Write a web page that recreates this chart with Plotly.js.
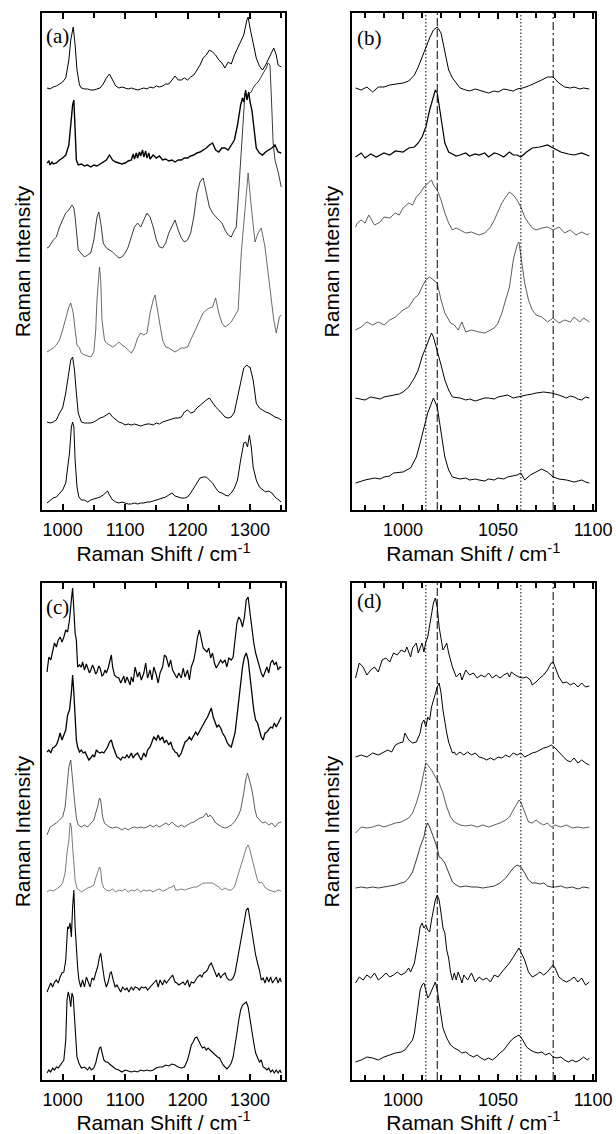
<!DOCTYPE html>
<html><head><meta charset="utf-8">
<script src="https://cdn.plot.ly/plotly-3.0.1.min.js"></script>
<style>html,body{margin:0;padding:0;background:#fff;}#chart{width:616px;height:1134px;}</style>
</head><body><div id="chart"></div>
<script>
// ---------- DATA (Raman shift in cm-1, stacked intensity in arbitrary units) ----------
const specA1 = [[975,422],[980,421],[985,423],[990,424],[995,426],[1000,428],[1005,432],[1010,450],[1013,470],[1017,483],[1020,465],[1023,440],[1027,425],[1030,422],[1035,421],[1040,421],[1045,420],[1050,420],[1055,421],[1060,422],[1065,426],[1070,432],[1075,436],[1080,430],[1085,424],[1090,422],[1095,423],[1100,422],[1105,421],[1110,422],[1115,421],[1120,420],[1125,421],[1130,422],[1135,421],[1140,423],[1145,422],[1150,424],[1155,423],[1160,424],[1165,426],[1170,426],[1175,430],[1180,434],[1185,430],[1190,430],[1195,432],[1200,430],[1205,433],[1210,435],[1215,440],[1220,445],[1225,452],[1230,455],[1235,460],[1240,458],[1245,455],[1250,450],[1255,447],[1260,442],[1265,448],[1270,446],[1275,455],[1280,462],[1285,468],[1290,475],[1295,490],[1297,493],[1300,482],[1305,465],[1310,452],[1315,444],[1320,440],[1325,445],[1330,452],[1335,458],[1338,462],[1342,455],[1345,445],[1350,443]];
const specA2 = [[975,347],[978,349],[980,345],[983,348],[985,346],[990,347],[995,350],[1000,352],[1005,355],[1010,365],[1013,385],[1016,405],[1018,410],[1020,370],[1022,350],[1025,345],[1030,346],[1035,344],[1040,345],[1045,343],[1050,345],[1055,344],[1060,346],[1065,348],[1070,350],[1075,355],[1080,350],[1085,348],[1090,347],[1095,346],[1100,347],[1105,349],[1110,350],[1113,356],[1115,351],[1118,357],[1120,352],[1123,358],[1125,354],[1128,360],[1130,353],[1133,359],[1135,352],[1138,357],[1140,351],[1145,355],[1150,352],[1155,354],[1160,350],[1165,351],[1170,349],[1175,350],[1180,348],[1185,350],[1190,350],[1195,352],[1200,352],[1205,354],[1210,355],[1215,357],[1220,358],[1225,360],[1230,362],[1235,365],[1240,367],[1245,360],[1250,358],[1255,362],[1260,362],[1265,360],[1270,365],[1275,370],[1280,385],[1285,405],[1288,412],[1290,408],[1293,420],[1295,410],[1298,418],[1300,408],[1303,400],[1306,385],[1310,362],[1315,357],[1320,355],[1325,358],[1330,360],[1335,362],[1340,365],[1345,358],[1350,357]];
const specA3 = [[975,262],[978,263],[981,266],[985,270],[990,273],[995,283],[1000,290],[1005,297],[1010,300],[1015,305],[1018,302],[1020,293],[1025,260],[1030,257],[1035,253],[1040,255],[1045,257],[1050,270],[1055,293],[1058,298],[1062,283],[1065,267],[1070,262],[1075,260],[1080,258],[1085,255],[1090,252],[1095,253],[1100,257],[1105,263],[1110,273],[1115,283],[1120,287],[1125,283],[1130,290],[1135,297],[1140,293],[1145,283],[1150,270],[1155,263],[1160,262],[1165,267],[1170,277],[1175,283],[1180,290],[1185,280],[1190,272],[1195,268],[1200,270],[1205,277],[1210,293],[1215,317],[1220,328],[1225,332],[1230,317],[1235,303],[1240,297],[1245,293],[1250,290],[1255,287],[1260,280],[1265,275],[1270,273],[1275,280],[1278,283],[1282,320],[1286,357],[1290,405],[1292,417],[1296,415],[1302,418],[1305,422],[1308,425],[1313,428],[1318,433],[1322,438],[1326,442],[1329,447],[1332,445],[1335,400],[1337,367],[1340,350],[1345,338],[1350,323]];
const specA4 = [[975,158],[980,160],[985,162],[990,165],[995,170],[1000,180],[1005,193],[1010,203],[1013,207],[1017,197],[1020,180],[1023,165],[1027,162],[1030,157],[1035,155],[1040,154],[1045,153],[1050,158],[1053,180],[1055,210],[1057,230],[1059,243],[1061,230],[1063,190],[1067,170],[1070,167],[1075,165],[1080,163],[1085,165],[1090,168],[1095,165],[1100,163],[1105,160],[1110,157],[1115,162],[1120,172],[1125,177],[1130,175],[1135,177],[1140,197],[1145,210],[1148,215],[1150,207],[1152,200],[1155,187],[1160,170],[1165,163],[1170,162],[1175,160],[1180,158],[1185,160],[1190,162],[1195,162],[1200,163],[1205,170],[1210,177],[1215,183],[1220,190],[1225,197],[1230,200],[1235,202],[1240,203],[1245,212],[1250,197],[1255,187],[1260,183],[1265,185],[1270,188],[1275,193],[1281,200],[1286,257],[1292,303],[1297,337],[1302,303],[1308,268],[1313,277],[1318,282],[1324,263],[1332,223],[1338,190],[1342,177],[1347,193],[1350,195]];
const specA5 = [[975,88],[980,87],[985,88],[990,90],[995,97],[1000,102],[1005,117],[1010,137],[1013,150],[1016,153],[1019,140],[1022,117],[1025,97],[1030,88],[1035,87],[1040,87],[1045,87],[1050,88],[1055,90],[1060,92],[1065,93],[1070,95],[1075,97],[1080,93],[1085,90],[1090,88],[1095,87],[1100,85],[1105,86],[1110,85],[1115,86],[1120,85],[1125,84],[1130,85],[1135,86],[1140,86],[1145,85],[1150,87],[1155,86],[1160,88],[1165,89],[1170,90],[1175,91],[1180,92],[1185,92],[1190,93],[1195,98],[1200,100],[1205,97],[1210,98],[1215,102],[1220,105],[1225,108],[1230,110],[1235,112],[1240,107],[1245,103],[1250,100],[1255,97],[1260,93],[1265,92],[1270,93],[1275,98],[1280,113],[1285,130],[1290,142],[1295,145],[1298,143],[1300,143],[1305,130],[1310,107],[1315,102],[1320,100],[1325,98],[1330,97],[1335,95],[1340,93],[1345,92],[1350,90]];
const specA6 = [[975,7],[980,10],[985,12],[990,13],[995,17],[1000,20],[1005,27],[1008,40],[1011,57],[1014,83],[1016,88],[1018,83],[1020,50],[1023,23],[1026,13],[1030,10],[1035,10],[1040,8],[1045,10],[1050,11],[1055,12],[1060,13],[1065,15],[1070,18],[1072,19],[1075,15],[1080,10],[1085,8],[1090,7],[1095,8],[1100,7],[1105,6],[1110,6],[1115,7],[1120,6],[1125,7],[1130,7],[1135,8],[1140,8],[1145,9],[1150,10],[1155,11],[1160,12],[1165,13],[1170,15],[1175,17],[1180,14],[1185,13],[1190,12],[1195,12],[1200,13],[1205,17],[1210,22],[1215,27],[1220,32],[1225,33],[1230,33],[1235,30],[1240,27],[1245,22],[1250,18],[1255,17],[1260,15],[1265,14],[1270,17],[1275,22],[1280,30],[1285,50],[1290,67],[1293,68],[1296,63],[1299,75],[1302,63],[1305,43],[1310,30],[1315,23],[1320,20],[1325,18],[1330,19],[1335,17],[1340,13],[1345,10],[1350,8]];

const specB1 = [[975,422],[978,420],[981,423],[984,418],[987,423],[990,423],[993,425],[996,426],[1000,427],[1003,429],[1006,435],[1008,443],[1010,453],[1012,463],[1014,472],[1016,480],[1018,483],[1020,477],[1022,460],[1024,440],[1026,432],[1028,427],[1030,422],[1033,420],[1035,419],[1038,421],[1040,420],[1043,418],[1045,417],[1048,419],[1050,418],[1053,421],[1055,420],[1058,419],[1060,421],[1063,422],[1066,424],[1070,427],[1073,430],[1076,433],[1079,433],[1082,427],[1085,423],[1088,422],[1090,423],[1093,421],[1095,422],[1098,421]];
const specB2 = [[975,353],[978,357],[980,352],[983,356],[986,353],[990,357],[993,355],[996,359],[1000,358],[1003,362],[1006,363],[1008,367],[1010,373],[1012,383],[1014,400],[1016,413],[1017,420],[1018,417],[1020,390],[1022,367],[1024,358],[1026,356],[1028,354],[1030,355],[1033,357],[1035,354],[1038,356],[1040,355],[1043,357],[1045,353],[1048,357],[1050,356],[1053,353],[1056,358],[1058,355],[1060,355],[1062,353],[1065,358],[1068,362],[1072,363],[1076,365],[1079,362],[1083,358],[1087,356],[1090,355],[1094,357],[1098,354]];
const specB3 = [[975,283],[976,287],[978,290],[980,287],[982,295],[984,289],[985,285],[988,288],[990,293],[993,292],[996,297],[998,295],[1000,302],[1003,307],[1005,305],[1007,313],[1009,317],[1011,323],[1013,327],[1015,330],[1016,325],[1018,320],[1020,310],[1022,297],[1024,287],[1026,280],[1028,282],[1030,280],[1033,277],[1036,278],[1040,275],[1043,277],[1046,283],[1048,290],[1050,298],[1052,307],[1054,313],[1056,318],[1058,315],[1060,310],[1062,303],[1064,293],[1066,287],[1068,282],[1070,280],[1073,282],[1076,283],[1079,280],[1082,283],[1085,277],[1088,280],[1091,275],[1094,278],[1097,275],[1098,277]];
const specB4 = [[975,180],[978,183],[981,188],[984,185],[987,188],[990,185],[993,190],[996,193],[1000,200],[1003,203],[1006,212],[1008,215],[1010,223],[1012,230],[1014,233],[1016,230],[1018,227],[1020,210],[1022,197],[1025,187],[1027,185],[1029,180],[1031,188],[1033,178],[1036,180],[1040,178],[1043,177],[1046,180],[1048,182],[1050,187],[1052,197],[1054,210],[1056,223],[1058,250],[1060,265],[1061,268],[1063,243],[1064,227],[1066,210],[1068,200],[1070,195],[1073,193],[1076,188],[1079,192],[1082,187],[1085,190],[1088,188],[1090,193],[1093,188],[1095,192],[1098,188]];
const specB5 = [[975,112],[978,111],[980,110],[983,113],[985,112],[988,111],[990,113],[993,114],[995,115],[998,116],[1000,118],[1003,123],[1006,132],[1008,140],[1010,153],[1012,163],[1014,172],[1015,177],[1016,173],[1018,160],[1020,145],[1022,130],[1024,120],[1026,113],[1030,112],[1033,110],[1035,111],[1038,109],[1040,110],[1043,112],[1045,112],[1048,111],[1050,113],[1053,114],[1055,115],[1058,112],[1060,113],[1063,114],[1065,115],[1068,116],[1070,117],[1074,118],[1078,117],[1082,115],[1086,112],[1088,114],[1090,113],[1092,111],[1094,110],[1096,113],[1098,112]];
const specB6 = [[975,27],[980,30],[985,32],[988,31],[990,33],[993,34],[995,37],[1000,38],[1004,42],[1007,53],[1009,67],[1011,83],[1013,97],[1015,107],[1016,112],[1018,103],[1020,77],[1022,53],[1024,40],[1026,33],[1030,31],[1033,32],[1035,30],[1038,31],[1040,30],[1043,29],[1045,31],[1048,30],[1050,32],[1053,31],[1055,33],[1058,34],[1060,35],[1062,37],[1064,30],[1067,35],[1070,38],[1073,41],[1076,38],[1079,33],[1082,31],[1086,30],[1090,28],[1094,30],[1096,28],[1098,27]];

const specC1 = [[975,408],[978,423],[981,420],[984,430],[987,437],[990,433],[993,440],[996,443],[999,438],[1002,443],[1005,450],[1008,448],[1011,460],[1014,480],[1016,492],[1018,470],[1020,447],[1022,440],[1024,413],[1027,415],[1030,413],[1032,418],[1035,410],[1038,416],[1040,413],[1043,407],[1045,410],[1048,415],[1050,412],[1053,406],[1055,408],[1058,414],[1060,412],[1063,404],[1065,405],[1068,410],[1070,407],[1073,412],[1076,420],[1078,425],[1080,413],[1083,405],[1086,403],[1090,402],[1093,397],[1095,400],[1098,404],[1100,397],[1103,403],[1105,400],[1108,395],[1110,403],[1113,398],[1116,413],[1120,403],[1123,408],[1126,400],[1130,407],[1133,417],[1136,402],[1140,410],[1143,400],[1146,413],[1150,405],[1153,397],[1156,407],[1160,413],[1163,425],[1166,423],[1170,413],[1173,420],[1176,410],[1180,405],[1183,402],[1186,407],[1190,402],[1193,412],[1196,403],[1200,410],[1203,400],[1206,413],[1208,417],[1210,420],[1213,430],[1216,443],[1219,450],[1222,440],[1225,432],[1228,430],[1231,428],[1234,432],[1237,422],[1240,427],[1243,417],[1246,412],[1250,417],[1253,420],[1256,417],[1260,420],[1263,413],[1266,422],[1270,420],[1273,423],[1276,440],[1279,457],[1282,463],[1285,460],[1288,453],[1291,463],[1294,480],[1297,483],[1300,467],[1303,450],[1306,437],[1309,427],[1312,420],[1315,413],[1318,407],[1321,403],[1324,408],[1327,413],[1330,407],[1333,417],[1336,420],[1339,415],[1342,418],[1345,410],[1348,413],[1350,412]];
const specC2 = [[975,328],[978,330],[981,327],[984,332],[987,333],[990,335],[993,340],[996,347],[999,340],[1002,345],[1005,350],[1008,365],[1011,370],[1014,387],[1016,405],[1018,387],[1020,360],[1022,340],[1024,333],[1027,328],[1030,330],[1033,327],[1036,328],[1039,323],[1042,320],[1045,322],[1048,325],[1051,323],[1054,330],[1057,328],[1060,327],[1063,328],[1066,327],[1069,330],[1072,333],[1075,338],[1078,340],[1081,333],[1084,327],[1087,323],[1090,322],[1093,320],[1096,323],[1100,322],[1103,325],[1106,322],[1110,327],[1113,322],[1116,325],[1120,327],[1123,323],[1126,320],[1130,327],[1133,323],[1136,330],[1140,333],[1143,338],[1146,343],[1150,340],[1153,345],[1156,340],[1160,343],[1163,337],[1166,340],[1170,335],[1173,338],[1176,332],[1180,328],[1183,327],[1186,323],[1190,327],[1193,333],[1196,338],[1200,340],[1203,343],[1206,340],[1210,345],[1213,348],[1216,345],[1220,350],[1223,353],[1226,357],[1229,360],[1232,363],[1235,368],[1238,372],[1241,363],[1244,358],[1247,353],[1250,355],[1253,352],[1256,347],[1260,343],[1263,338],[1266,335],[1270,333],[1273,340],[1276,347],[1279,363],[1282,380],[1285,397],[1288,413],[1291,423],[1294,427],[1297,420],[1300,403],[1303,383],[1306,370],[1309,360],[1312,357],[1315,350],[1318,343],[1321,340],[1324,347],[1327,348],[1330,350],[1333,353],[1336,352],[1339,357],[1342,353],[1345,357],[1348,360],[1350,363]];
const specC3 = [[975,245],[980,253],[985,255],[990,257],[995,260],[1000,263],[1004,273],[1007,293],[1010,313],[1013,320],[1016,303],[1019,280],[1022,262],[1025,255],[1030,253],[1035,255],[1040,253],[1045,257],[1050,260],[1053,267],[1056,273],[1059,282],[1061,280],[1064,263],[1067,257],[1070,255],[1075,253],[1080,252],[1085,253],[1090,252],[1095,250],[1100,252],[1105,250],[1110,252],[1115,253],[1120,252],[1125,253],[1130,252],[1135,253],[1140,255],[1145,253],[1150,255],[1155,253],[1160,255],[1165,257],[1170,255],[1175,258],[1180,255],[1185,253],[1190,255],[1195,253],[1200,255],[1205,257],[1210,258],[1215,260],[1220,262],[1225,263],[1230,267],[1233,263],[1236,265],[1240,262],[1245,257],[1250,255],[1255,253],[1260,252],[1265,253],[1270,255],[1275,258],[1280,263],[1285,270],[1290,287],[1293,300],[1296,307],[1299,300],[1302,293],[1305,283],[1308,270],[1311,263],[1315,260],[1320,257],[1325,258],[1330,255],[1335,257],[1340,253],[1345,257],[1350,258]];
const specC4 = [[975,188],[980,190],[985,189],[990,191],[995,193],[1000,197],[1004,207],[1007,227],[1010,240],[1012,257],[1014,253],[1016,233],[1018,213],[1020,200],[1023,192],[1027,190],[1030,188],[1035,190],[1040,192],[1045,193],[1050,195],[1053,202],[1056,208],[1059,213],[1061,210],[1063,197],[1066,192],[1070,190],[1075,189],[1080,191],[1085,188],[1090,190],[1095,189],[1100,191],[1105,188],[1110,190],[1115,189],[1120,191],[1125,188],[1130,190],[1135,189],[1140,190],[1145,188],[1150,190],[1155,191],[1160,189],[1165,190],[1170,192],[1175,193],[1178,195],[1181,190],[1185,190],[1190,191],[1195,190],[1200,191],[1205,192],[1210,193],[1215,193],[1220,195],[1225,197],[1230,197],[1235,197],[1240,197],[1245,195],[1250,193],[1255,190],[1260,192],[1265,190],[1270,190],[1275,193],[1280,203],[1285,213],[1290,225],[1294,232],[1297,235],[1300,230],[1303,222],[1306,213],[1309,207],[1312,200],[1315,197],[1318,198],[1321,195],[1325,192],[1330,190],[1335,189],[1340,188],[1345,190],[1350,189]];
const specC5 = [[975,88],[978,93],[981,97],[984,93],[987,98],[990,100],[993,97],[996,103],[999,107],[1002,108],[1005,120],[1008,153],[1010,152],[1012,157],[1014,143],[1016,173],[1018,190],[1020,153],[1022,127],[1024,113],[1026,100],[1029,93],[1032,100],[1035,93],[1038,103],[1041,97],[1044,93],[1047,102],[1050,100],[1053,107],[1056,113],[1059,123],[1061,127],[1064,113],[1067,100],[1070,93],[1073,98],[1076,107],[1078,108],[1081,100],[1084,93],[1087,95],[1090,92],[1093,88],[1096,93],[1100,90],[1103,92],[1106,88],[1110,93],[1113,90],[1116,93],[1120,92],[1123,90],[1126,93],[1130,92],[1133,93],[1136,90],[1140,93],[1143,95],[1146,97],[1150,100],[1153,93],[1156,100],[1160,95],[1163,100],[1166,97],[1170,100],[1173,103],[1176,105],[1180,98],[1183,97],[1186,95],[1190,97],[1193,98],[1196,95],[1200,100],[1203,93],[1206,98],[1210,97],[1213,100],[1216,103],[1220,105],[1223,103],[1226,107],[1229,108],[1232,110],[1235,115],[1238,117],[1241,112],[1244,107],[1247,103],[1250,107],[1253,102],[1256,105],[1260,107],[1263,102],[1266,100],[1270,100],[1273,102],[1276,107],[1279,117],[1282,127],[1285,140],[1288,150],[1291,160],[1294,170],[1297,172],[1300,160],[1303,147],[1306,133],[1309,125],[1312,117],[1315,110],[1318,100],[1321,102],[1324,97],[1327,103],[1330,98],[1333,103],[1336,97],[1339,100],[1342,103],[1345,97],[1348,102],[1350,98]];
const specC6 = [[975,7],[978,10],[981,8],[984,12],[987,10],[990,13],[993,12],[996,15],[999,17],[1002,20],[1005,40],[1007,80],[1009,88],[1011,83],[1013,73],[1015,87],[1017,83],[1019,63],[1021,37],[1023,23],[1026,17],[1030,12],[1035,13],[1040,10],[1043,13],[1046,10],[1050,12],[1053,17],[1056,25],[1059,32],[1061,33],[1063,28],[1066,20],[1069,18],[1072,18],[1075,16],[1078,14],[1081,13],[1085,11],[1090,10],[1095,8],[1100,10],[1105,9],[1110,8],[1115,9],[1120,8],[1125,10],[1130,9],[1135,10],[1140,9],[1145,10],[1150,12],[1155,13],[1160,13],[1165,15],[1170,14],[1175,16],[1180,15],[1185,13],[1190,12],[1195,13],[1200,20],[1203,27],[1206,35],[1209,38],[1212,42],[1215,43],[1218,38],[1221,35],[1224,32],[1227,33],[1230,30],[1233,32],[1236,30],[1239,28],[1242,27],[1245,25],[1248,23],[1251,22],[1254,18],[1257,15],[1260,13],[1263,11],[1266,13],[1270,17],[1273,23],[1276,33],[1279,47],[1282,60],[1285,70],[1288,75],[1291,77],[1294,78],[1297,73],[1300,60],[1303,47],[1306,37],[1309,27],[1312,22],[1315,18],[1318,20],[1321,13],[1324,12],[1327,10],[1330,12],[1333,8],[1336,10],[1339,7],[1342,10],[1345,7],[1348,10],[1350,7]];

const specD1 = [[975,402],[977,417],[979,413],[981,405],[983,410],[985,413],[987,408],[989,420],[991,422],[993,418],[995,427],[997,425],[999,430],[1001,428],[1002,433],[1004,423],[1005,432],[1007,437],[1008,427],[1009,432],[1010,437],[1011,428],[1012,438],[1013,443],[1014,453],[1015,465],[1016,477],[1017,482],[1018,473],[1019,453],[1020,440],[1021,430],[1022,433],[1023,437],[1024,427],[1026,413],[1028,403],[1030,407],[1031,400],[1033,410],[1035,405],[1037,407],[1039,402],[1041,405],[1043,403],[1045,407],[1047,402],[1049,405],[1051,402],[1053,405],[1055,407],[1056,403],[1057,408],[1059,405],[1061,403],[1063,402],[1065,403],[1067,400],[1068,395],[1070,398],[1072,402],[1074,405],[1076,410],[1078,417],[1079,418],[1080,413],[1082,403],[1084,397],[1086,398],[1088,395],[1090,397],[1092,393],[1094,397],[1096,393],[1098,394]];
const specD2 = [[975,323],[978,325],[981,323],[984,327],[987,325],[990,328],[992,330],[994,328],[996,335],[998,337],[1000,338],[1001,347],[1003,340],[1005,337],[1007,338],[1009,347],[1010,357],[1011,360],[1012,353],[1013,363],[1014,360],[1015,373],[1016,380],[1017,387],[1018,393],[1019,397],[1020,387],[1021,370],[1022,357],[1023,347],[1024,338],[1025,333],[1026,327],[1027,328],[1028,325],[1030,328],[1032,325],[1034,328],[1036,325],[1038,327],[1040,323],[1042,322],[1044,320],[1046,322],[1048,320],[1050,323],[1052,322],[1054,325],[1056,323],[1058,327],[1060,325],[1062,327],[1064,323],[1066,325],[1068,327],[1070,328],[1072,330],[1074,332],[1076,333],[1078,335],[1080,332],[1082,328],[1084,323],[1086,320],[1088,318],[1090,322],[1092,317],[1094,320],[1096,317],[1098,315]];
const specD3 = [[975,247],[978,253],[981,252],[984,253],[987,255],[990,253],[993,255],[996,257],[999,258],[1001,260],[1003,262],[1005,267],[1007,277],[1009,290],[1011,307],[1012,317],[1013,315],[1015,310],[1017,303],[1019,297],[1021,287],[1023,273],[1025,263],[1027,258],[1030,255],[1033,254],[1036,255],[1039,253],[1042,255],[1045,253],[1048,255],[1051,257],[1054,260],[1056,263],[1058,270],[1060,277],[1061,280],[1062,278],[1064,267],[1066,258],[1068,257],[1070,260],[1072,257],[1074,255],[1076,257],[1078,253],[1080,255],[1083,253],[1086,255],[1089,252],[1092,253],[1095,252],[1098,253]];
const specD4 = [[975,192],[978,193],[981,192],[984,193],[987,192],[990,193],[993,194],[996,195],[999,197],[1001,198],[1003,202],[1005,208],[1007,220],[1009,233],[1011,243],[1012,253],[1013,257],[1014,253],[1016,243],[1017,237],[1018,232],[1019,223],[1020,222],[1022,217],[1024,207],[1026,198],[1028,195],[1030,193],[1033,194],[1036,193],[1039,193],[1042,192],[1045,193],[1048,194],[1051,197],[1054,202],[1056,207],[1058,212],[1060,215],[1062,213],[1064,207],[1066,200],[1068,197],[1070,197],[1072,196],[1074,197],[1076,194],[1078,193],[1080,193],[1083,194],[1086,192],[1089,193],[1092,191],[1095,193],[1098,192]];
const specD5 = [[975,97],[977,103],[979,100],[981,105],[983,102],[985,107],[987,100],[989,103],[991,107],[993,103],[995,105],[997,108],[999,105],[1001,107],[1003,112],[1004,108],[1006,117],[1007,127],[1008,140],[1009,153],[1010,157],[1011,152],[1012,155],[1013,150],[1014,148],[1015,160],[1016,170],[1017,180],[1018,185],[1019,180],[1020,167],[1021,152],[1022,147],[1023,130],[1024,122],[1025,108],[1026,100],[1027,107],[1028,100],[1029,108],[1030,103],[1031,97],[1032,105],[1034,100],[1036,107],[1038,98],[1040,103],[1042,100],[1044,102],[1046,98],[1048,105],[1050,103],[1052,108],[1054,112],[1056,117],[1058,123],[1060,130],[1061,132],[1062,128],[1064,120],[1066,108],[1068,103],[1070,105],[1072,108],[1074,105],[1076,108],[1078,113],[1079,115],[1080,112],[1082,103],[1084,100],[1086,98],[1088,100],[1090,103],[1092,98],[1094,102],[1096,95],[1098,98]];
const specD6 = [[975,18],[978,20],[981,23],[984,22],[987,20],[990,23],[993,25],[996,27],[999,28],[1001,30],[1003,35],[1005,40],[1006,47],[1007,63],[1008,77],[1009,90],[1010,95],[1011,97],[1012,90],[1013,82],[1014,85],[1015,90],[1016,95],[1017,98],[1018,90],[1019,77],[1020,63],[1021,52],[1023,42],[1025,35],[1027,32],[1029,30],[1031,27],[1033,28],[1035,25],[1037,23],[1039,25],[1041,22],[1043,20],[1045,22],[1047,20],[1049,23],[1051,27],[1053,30],[1055,35],[1057,40],[1059,43],[1061,45],[1063,40],[1065,33],[1067,30],[1069,28],[1071,27],[1073,28],[1075,25],[1077,27],[1079,23],[1081,22],[1083,23],[1085,20],[1087,18],[1089,20],[1091,18],[1093,20],[1095,23],[1097,20],[1098,22]];

const markerShifts = [1012, 1018, 1062, 1079];   // band positions marked in (b) and (d)
const panelLabels = ['(a)', '(b)', '(c)', '(d)'];
const wideTicks = [1000, 1100, 1200, 1300];
const narrowTicks = [1000, 1050, 1100];
const xTitle = 'Raman Shift / cm<sup>-1</sup>';
const yTitle = 'Raman Intensity';

// ---------- BUILD ----------
const W = 616, H = 1134;
const px = v => v / W;
const py = v => 1 - v / H;
const SANS = 'Liberation Sans, Arial, Helvetica, sans-serif';
const SERIF = 'Liberation Serif, Times New Roman, serif';

function line(spec, n, width, color) {
  return {
    x: spec.map(p => p[0]), y: spec.map(p => p[1]),
    xaxis: 'x' + (n === 1 ? '' : n), yaxis: 'y' + (n === 1 ? '' : n),
    type: 'scatter', mode: 'lines', line: {color: color, width: width},
    hoverinfo: 'skip', showlegend: false
  };
}

const traces = [
  line(specA1, 1, 1.0, '#000'), line(specA2, 1, 1.4, '#000'), line(specA3, 1, 0.9, '#222'),
  line(specA4, 1, 0.8, '#444'), line(specA5, 1, 1.0, '#000'), line(specA6, 1, 1.0, '#000'),
  line(specB1, 2, 1.0, '#000'), line(specB2, 2, 1.2, '#000'), line(specB3, 2, 0.8, '#333'),
  line(specB4, 2, 0.8, '#333'), line(specB5, 2, 1.0, '#000'), line(specB6, 2, 1.0, '#000'),
  line(specC1, 3, 1.2, '#000'), line(specC2, 3, 1.3, '#000'), line(specC3, 3, 0.8, '#333'),
  line(specC4, 3, 0.7, '#444'), line(specC5, 3, 1.1, '#000'), line(specC6, 3, 1.1, '#000'),
  line(specD1, 4, 1.0, '#000'), line(specD2, 4, 1.0, '#000'), line(specD3, 4, 0.8, '#333'),
  line(specD4, 4, 0.9, '#222'), line(specD5, 4, 1.0, '#000'), line(specD6, 4, 1.0, '#000')
];

function xAxis(domain, anchor, range, tickvals, minorStep) {
  return {
    domain: domain, anchor: anchor, range: range,
    tickmode: 'array', tickvals: tickvals, ticktext: tickvals.map(String),
    ticks: 'inside', ticklen: 6, tickwidth: 2, tickcolor: '#000',
    minor: {dtick: minorStep, tick0: 1000, ticks: 'inside', ticklen: 5, tickwidth: 2, tickcolor: '#000', showgrid: false},
    showline: true, linewidth: 2, linecolor: '#000', mirror: 'ticks',
    showgrid: false, zeroline: false,
    tickfont: {family: SANS, size: 18, color: '#000'}, ticklabelstandoff: 2,
    title: {text: xTitle, font: {family: SANS, size: 21, color: '#000'}, standoff: 3},
    fixedrange: true
  };
}
function yAxis(domain, anchor) {
  return {
    domain: domain, anchor: anchor, range: [0, 497],
    showline: true, linewidth: 2, linecolor: '#000', mirror: true,
    ticks: '', showticklabels: false, showgrid: false, zeroline: false,
    title: {text: yTitle, font: {family: SANS, size: 21, color: '#000'}, standoff: 4},
    fixedrange: true
  };
}

const colL = [px(42), px(285)], colR = [px(351.7), px(595)];
const rowT = [py(510), py(13)], rowB = [py(1080), py(583)];

const shapes = [];
['2', '4'].forEach(n => {
  markerShifts.forEach((v, i) => {
    const dash = i === 0 || i === 2 ? '1.5px,2px' : (i === 1 ? '8px,3px' : '8px,3px,2px,3px');
    shapes.push({type: 'line', xref: 'x' + n, yref: 'y' + n + ' domain', x0: v, x1: v, y0: 0, y1: 1,
      line: {color: '#000', width: 1, dash: dash}});
  });
});

const labelPos = [[44, 22], [355, 24], [44, 593], [355, 587]];
const annotations = panelLabels.map((t, i) => ({
  text: t, xref: 'paper', yref: 'paper', x: px(labelPos[i][0]), y: py(labelPos[i][1]),
  xanchor: 'left', yanchor: 'top', showarrow: false,
  font: {family: SERIF, size: 21, color: '#000'}
}));

const layout = {
  width: W, height: H, margin: {l: 0, r: 0, t: 0, b: 0},
  paper_bgcolor: '#fff', plot_bgcolor: '#fff', showlegend: false,
  xaxis: xAxis(colL, 'y', [967, 1356], wideTicks, 50),
  yaxis: yAxis(rowT, 'x'),
  xaxis2: xAxis(colR, 'y2', [973, 1101], narrowTicks, 10),
  yaxis2: yAxis(rowT, 'x2'),
  xaxis3: xAxis(colL, 'y3', [967, 1356], wideTicks, 50),
  yaxis3: yAxis(rowB, 'x3'),
  xaxis4: xAxis(colR, 'y4', [973, 1101], narrowTicks, 10),
  yaxis4: yAxis(rowB, 'x4'),
  shapes: shapes, annotations: annotations
};

Plotly.newPlot('chart', traces, layout, {staticPlot: true, displayModeBar: false});
</script>
</body></html>
